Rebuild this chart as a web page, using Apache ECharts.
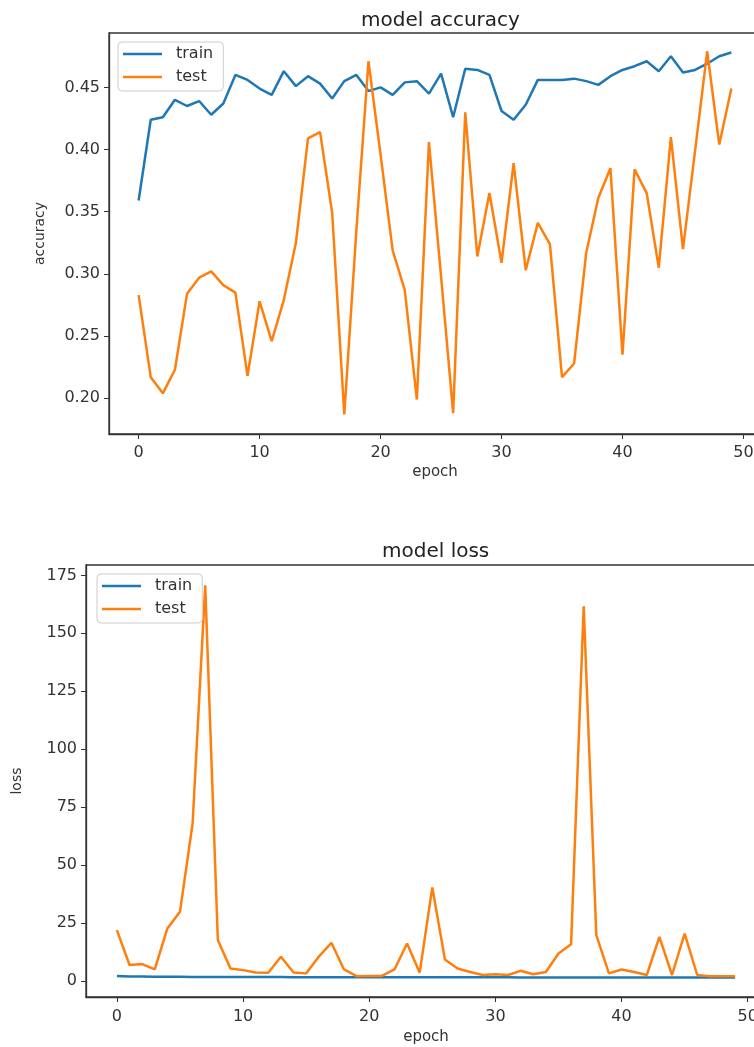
<!DOCTYPE html>
<html>
<head>
<meta charset="utf-8">
<script src="https://cdn.jsdelivr.net/npm/echarts@6/dist/echarts.min.js"></script>
<style>
html,body{margin:0;padding:0;background:#fff;overflow:hidden;width:754px;height:1047px;}
#c{width:800px;height:1047px;}
</style>
</head>
<body>
<div id="c"></div>
<script>
const epochs = [0,1,2,3,4,5,6,7,8,9,10,11,12,13,14,15,16,17,18,19,20,21,22,23,24,25,26,27,28,29,30,31,32,33,34,35,36,37,38,39,40,41,42,43,44,45,46,47,48,49];
const xTicks = [0,10,20,30,40,50];
const accTicks = [0.20,0.25,0.30,0.35,0.40,0.45];
const lossTicks = [0,25,50,75,100,125,150,175];

const accTrain = [0.359,0.424,0.426,0.440,0.435,0.439,0.428,0.437,0.460,0.456,0.449,0.444,0.463,0.451,0.459,0.453,0.441,0.455,0.460,0.447,0.450,0.444,0.454,0.455,0.445,0.461,0.426,0.465,0.464,0.460,0.431,0.424,0.436,0.456,0.456,0.456,0.457,0.455,0.452,0.459,0.464,0.467,0.471,0.463,0.475,0.462,0.464,0.469,0.475,0.478];
const accTest = [0.283,0.217,0.204,0.223,0.284,0.297,0.302,0.291,0.285,0.218,0.278,0.246,0.279,0.325,0.409,0.414,0.349,0.187,0.335,0.471,0.396,0.319,0.287,0.199,0.406,0.298,0.188,0.430,0.314,0.365,0.309,0.389,0.303,0.341,0.324,0.217,0.228,0.317,0.361,0.385,0.235,0.384,0.365,0.305,0.410,0.320,0.399,0.479,0.404,0.449];
const lossTrain = [2.1,1.85,1.8,1.75,1.72,1.7,1.68,1.66,1.65,1.63,1.62,1.6,1.6,1.59,1.58,1.57,1.56,1.55,1.55,1.54,1.53,1.53,1.52,1.52,1.51,1.5,1.5,1.5,1.49,1.49,1.48,1.48,1.47,1.47,1.46,1.46,1.46,1.45,1.45,1.44,1.44,1.44,1.43,1.43,1.43,1.42,1.42,1.42,1.41,1.41];
const lossTest = [21.9,6.8,7.2,4.9,22.6,29.8,67.9,170.7,17.6,5.3,4.6,3.6,3.5,10.4,3.6,3.2,10.4,16.4,4.9,2.0,2.1,2.1,4.9,16.1,3.5,40.3,9.2,5.3,3.8,2.5,2.8,2.5,4.3,2.8,3.8,11.8,15.8,161.7,19.7,3.2,4.9,3.8,2.5,19.0,2.5,20.4,2.5,2.0,2.0,2.0];

const FONT = 'DejaVu Sans';
const INK = '#333';
const pairs = (ys) => epochs.map((e, i) => [e, ys[i]]);

function xAxisDef(gridIndex, margin, gap) {
  return {
    type: 'value', gridIndex, min: -2.45, max: 51.45,
    splitLine: {show: false},
    axisLine: {show: true, onZero: false, lineStyle: {color: INK, width: 1.3}},
    axisTick: {show: true, customValues: xTicks, length: 5, lineStyle: {color: INK}},
    axisLabel: {customValues: xTicks, color: INK, fontSize: 16, fontFamily: FONT, margin},
    name: 'epoch', nameLocation: 'middle', nameGap: gap,
    nameTextStyle: {color: INK, fontSize: 15, fontFamily: FONT}
  };
}
function yAxisDef(gridIndex, min, max, ticks, name, gap) {
  return {
    type: 'value', gridIndex, min, max,
    splitLine: {show: false},
    axisLine: {show: true, onZero: false, lineStyle: {color: INK, width: 1.3}},
    axisTick: {show: true, customValues: ticks, length: 5, lineStyle: {color: INK}},
    axisLabel: {customValues: ticks, color: INK, fontSize: 16, fontFamily: FONT, margin: 9,
      formatter: (v) => name === 'accuracy' ? v.toFixed(2) : String(v)},
    name, nameLocation: 'middle', nameGap: gap,
    nameTextStyle: {color: INK, fontSize: 14, fontFamily: FONT}
  };
}
function legendDef(left, top) {
  return {
    orient: 'vertical', left, top,
    data: [], icon: 'rect', itemWidth: 39, itemHeight: 2.5, itemGap: 5,
    backgroundColor: 'rgba(255,255,255,0.8)', borderColor: '#cccccc', borderWidth: 1, borderRadius: 4,
    padding: [3, 10, 5, 5],
    textStyle: {color: INK, fontSize: 16, fontFamily: FONT, lineHeight: 18, padding: [0, 0, 0, 9]}
  };
}
const lg1 = legendDef(118, 42); lg1.data = ['train', 'test'];
lg1.selectedMode = false;
const lg2 = legendDef(97, 574); lg2.data = ['train ', 'test '];
lg2.selectedMode = false;
lg2.formatter = (n) => n.trim();

const chart = echarts.init(document.getElementById('c'), null, {renderer: 'canvas'});
chart.setOption({
  animation: false,
  backgroundColor: '#fff',
  title: [
    {text: 'model accuracy', left: 356, top: 6, textStyle: {color: '#222', fontSize: 20, fontWeight: 'normal', fontFamily: FONT}},
    {text: 'model loss', left: 377, top: 537, textStyle: {color: '#222', fontSize: 20, fontWeight: 'normal', fontFamily: FONT}}
  ],
  legend: [lg1, lg2],
  grid: [
    {left: 109, top: 33, width: 652, height: 401, show: true, borderColor: INK, borderWidth: 1.3, backgroundColor: 'transparent'},
    {left: 86, top: 565, width: 680, height: 432, show: true, borderColor: INK, borderWidth: 1.3, backgroundColor: 'transparent'}
  ],
  xAxis: [xAxisDef(0, 11, 31), xAxisDef(1, 12, 33)],
  yAxis: [
    yAxisDef(0, 0.1713, 0.4937, accTicks, 'accuracy', 62),
    yAxisDef(1, -7, 179.5, lossTicks, 'loss', 62)
  ],
  series: [
    {name: 'train', type: 'line', xAxisIndex: 0, yAxisIndex: 0, data: pairs(accTrain), symbol: 'none', lineStyle: {color: '#1f77b4', width: 2.5}, itemStyle: {color: '#1f77b4'}},
    {name: 'test', type: 'line', xAxisIndex: 0, yAxisIndex: 0, data: pairs(accTest), symbol: 'none', lineStyle: {color: '#ff7f0e', width: 2.5}, itemStyle: {color: '#ff7f0e'}},
    {name: 'train ', type: 'line', xAxisIndex: 1, yAxisIndex: 1, data: pairs(lossTrain), symbol: 'none', lineStyle: {color: '#1f77b4', width: 2.5}, itemStyle: {color: '#1f77b4'}},
    {name: 'test ', type: 'line', xAxisIndex: 1, yAxisIndex: 1, data: pairs(lossTest), symbol: 'none', lineStyle: {color: '#ff7f0e', width: 2.5}, itemStyle: {color: '#ff7f0e'}}
  ]
});
</script>
</body>
</html>
